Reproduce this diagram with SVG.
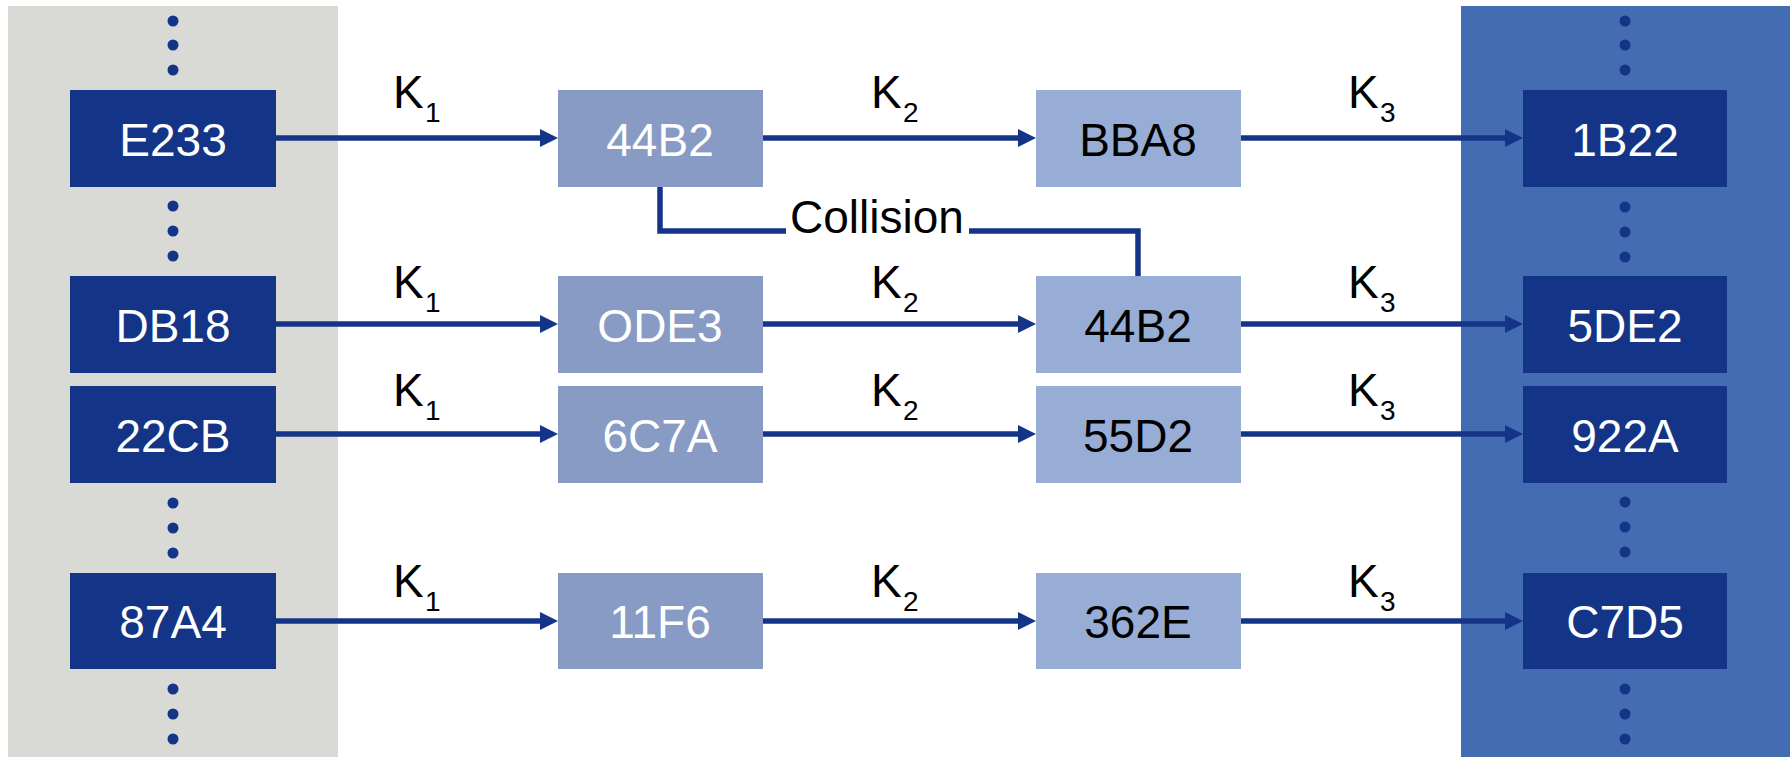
<svg xmlns="http://www.w3.org/2000/svg" width="1792" height="758" viewBox="0 0 1792 758">
<defs>
<style>
.dark{fill:#143587}
.c1{fill:#889BC5}
.c2{fill:#97ADD6}
.lbl{font-family:"Liberation Sans",Arial,sans-serif;font-size:46px;text-anchor:middle}
.w{fill:#ffffff}
.b{fill:#000000}
.k{font-family:"Liberation Sans",Arial,sans-serif;font-size:46px;fill:#000000}
.sub{font-size:28px}
.dot{fill:#143587}
.con{stroke:#143587;stroke-width:5.5;fill:none}
</style>
<marker id="ah" markerUnits="userSpaceOnUse" markerWidth="18" markerHeight="18" refX="8" refY="9" orient="auto">
<path d="M0,0 L18,9 L0,18 z" fill="#143587"/>
</marker>
</defs>
<rect width="1792" height="758" fill="#ffffff"/>
<g id="panels">
<rect x="8" y="6" width="330" height="751" fill="#D9D9D5"/>
<rect x="1461" y="6" width="329" height="751" fill="#446CB3"/>
</g>
<g id="dots">
<circle class="dot" cx="173" cy="21" r="5.5"/><circle class="dot" cx="173" cy="45" r="5.5"/><circle class="dot" cx="173" cy="70" r="5.5"/>
<circle class="dot" cx="173" cy="206" r="5.5"/><circle class="dot" cx="173" cy="231" r="5.5"/><circle class="dot" cx="173" cy="256" r="5.5"/>
<circle class="dot" cx="173" cy="503" r="5.5"/><circle class="dot" cx="173" cy="528" r="5.5"/><circle class="dot" cx="173" cy="553" r="5.5"/>
<circle class="dot" cx="173" cy="689" r="5.5"/><circle class="dot" cx="173" cy="714" r="5.5"/><circle class="dot" cx="173" cy="739" r="5.5"/>
<circle class="dot" cx="1625" cy="21" r="5.5"/><circle class="dot" cx="1625" cy="45" r="5.5"/><circle class="dot" cx="1625" cy="70" r="5.5"/>
<circle class="dot" cx="1625" cy="207" r="5.5"/><circle class="dot" cx="1625" cy="232" r="5.5"/><circle class="dot" cx="1625" cy="257" r="5.5"/>
<circle class="dot" cx="1625" cy="502" r="5.5"/><circle class="dot" cx="1625" cy="527" r="5.5"/><circle class="dot" cx="1625" cy="552" r="5.5"/>
<circle class="dot" cx="1625" cy="689" r="5.5"/><circle class="dot" cx="1625" cy="714" r="5.5"/><circle class="dot" cx="1625" cy="739" r="5.5"/>
</g>
<g id="connectors">
<line class="con" x1="276" y1="138" x2="548" y2="138" marker-end="url(#ah)"/>
<line class="con" x1="763" y1="138" x2="1026" y2="138" marker-end="url(#ah)"/>
<line class="con" x1="1241" y1="138" x2="1513" y2="138" marker-end="url(#ah)"/>
<line class="con" x1="276" y1="324" x2="548" y2="324" marker-end="url(#ah)"/>
<line class="con" x1="763" y1="324" x2="1026" y2="324" marker-end="url(#ah)"/>
<line class="con" x1="1241" y1="324" x2="1513" y2="324" marker-end="url(#ah)"/>
<line class="con" x1="276" y1="434" x2="548" y2="434" marker-end="url(#ah)"/>
<line class="con" x1="763" y1="434" x2="1026" y2="434" marker-end="url(#ah)"/>
<line class="con" x1="1241" y1="434" x2="1513" y2="434" marker-end="url(#ah)"/>
<line class="con" x1="276" y1="621" x2="548" y2="621" marker-end="url(#ah)"/>
<line class="con" x1="763" y1="621" x2="1026" y2="621" marker-end="url(#ah)"/>
<line class="con" x1="1241" y1="621" x2="1513" y2="621" marker-end="url(#ah)"/>
<path class="con" d="M660,187 V231 H786"/>
<path class="con" d="M969,231 H1138 V276"/>
<text class="k" x="877" y="233" text-anchor="middle">Collision</text>
<text class="k" x="393" y="108">K<tspan class="sub" x="425" dy="14">1</tspan></text>
<text class="k" x="393" y="298">K<tspan class="sub" x="425" dy="14">1</tspan></text>
<text class="k" x="393" y="406">K<tspan class="sub" x="425" dy="14">1</tspan></text>
<text class="k" x="393" y="597">K<tspan class="sub" x="425" dy="14">1</tspan></text>
<text class="k" x="871" y="108">K<tspan class="sub" x="903" dy="14">2</tspan></text>
<text class="k" x="871" y="298">K<tspan class="sub" x="903" dy="14">2</tspan></text>
<text class="k" x="871" y="406">K<tspan class="sub" x="903" dy="14">2</tspan></text>
<text class="k" x="871" y="597">K<tspan class="sub" x="903" dy="14">2</tspan></text>
<text class="k" x="1348" y="108">K<tspan class="sub" x="1380" dy="14">3</tspan></text>
<text class="k" x="1348" y="298">K<tspan class="sub" x="1380" dy="14">3</tspan></text>
<text class="k" x="1348" y="406">K<tspan class="sub" x="1380" dy="14">3</tspan></text>
<text class="k" x="1348" y="597">K<tspan class="sub" x="1380" dy="14">3</tspan></text>
</g>
<g id="n-E233"><rect class="dark" x="70" y="90" width="206" height="97"/><text class="lbl w" x="173" y="156">E233</text></g>
<g id="n-DB18"><rect class="dark" x="70" y="276" width="206" height="97"/><text class="lbl w" x="173" y="342">DB18</text></g>
<g id="n-22CB"><rect class="dark" x="70" y="386" width="206" height="97"/><text class="lbl w" x="173" y="452">22CB</text></g>
<g id="n-87A4"><rect class="dark" x="70" y="573" width="206" height="96"/><text class="lbl w" x="173" y="638">87A4</text></g>
<g id="n-44B2a"><rect class="c1" x="558" y="90" width="205" height="97"/><text class="lbl w" x="660" y="156">44B2</text></g>
<g id="n-ODE3"><rect class="c1" x="558" y="276" width="205" height="97"/><text class="lbl w" x="660" y="342">ODE3</text></g>
<g id="n-6C7A"><rect class="c1" x="558" y="386" width="205" height="97"/><text class="lbl w" x="660" y="452">6C7A</text></g>
<g id="n-11F6"><rect class="c1" x="558" y="573" width="205" height="96"/><text class="lbl w" x="660" y="638">11F6</text></g>
<g id="n-BBA8"><rect class="c2" x="1036" y="90" width="205" height="97"/><text class="lbl b" x="1138" y="156">BBA8</text></g>
<g id="n-44B2b"><rect class="c2" x="1036" y="276" width="205" height="97"/><text class="lbl b" x="1138" y="342">44B2</text></g>
<g id="n-55D2"><rect class="c2" x="1036" y="386" width="205" height="97"/><text class="lbl b" x="1138" y="452">55D2</text></g>
<g id="n-362E"><rect class="c2" x="1036" y="573" width="205" height="96"/><text class="lbl b" x="1138" y="638">362E</text></g>
<g id="n-1B22"><rect class="dark" x="1523" y="90" width="204" height="97"/><text class="lbl w" x="1625" y="156">1B22</text></g>
<g id="n-5DE2"><rect class="dark" x="1523" y="276" width="204" height="97"/><text class="lbl w" x="1625" y="342">5DE2</text></g>
<g id="n-922A"><rect class="dark" x="1523" y="386" width="204" height="97"/><text class="lbl w" x="1625" y="452">922A</text></g>
<g id="n-C7D5"><rect class="dark" x="1523" y="573" width="204" height="96"/><text class="lbl w" x="1625" y="638">C7D5</text></g>
</svg>
